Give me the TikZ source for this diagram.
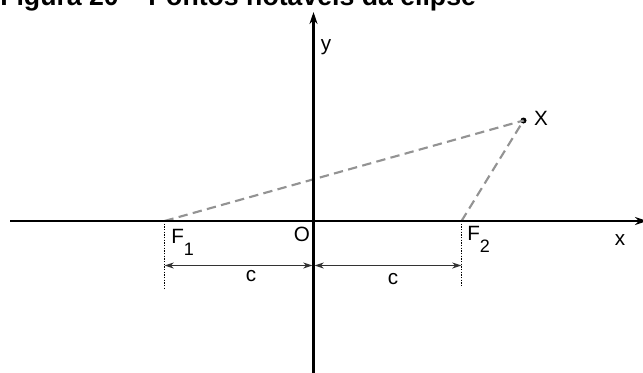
\documentclass[tikz,border=0pt]{standalone}
\usepackage{fontspec}
\setmainfont{Liberation Sans}
\usetikzlibrary{arrows.meta}
\newcommand{\subidx}[1]{\raisebox{-9pt}{\fontsize{13.5}{16}\selectfont #1}}
\begin{document}
\begin{tikzpicture}[x=0.75pt, y=-0.75pt,
        every node/.style={font=\fontsize{15.5}{18}\selectfont, inner sep=0pt},
        axis/.style={line width=1.8pt, -{Stealth[length=9pt, width=6pt]}},
        guide/.style={dash pattern=on 7pt off 4pt, line width=1.6pt, draw=gray!85},
        foot/.style={dash pattern=on 1pt off 1pt, line width=1.4pt},
        dim/.style={{Stealth[length=7pt, width=4.5pt]}-{Stealth[length=7pt, width=4.5pt]},
            line width=0.8pt, draw=black!80},
        title/.style={font=\fontsize{20}{24}\selectfont\bfseries},
        dot/.style={circle, fill, minimum size=4.5pt}
      ]
      \useasboundingbox (0,0) rectangle (643,372);
      \node[title, anchor=base west] (title) at (0,5) {Figura 20 -- Pontos notáveis da elipse};

      \coordinate (O)  at (313.5,221);
      \coordinate (F1) at (164.5,221);
      \coordinate (F2) at (461.5,221);
      \node[dot] (X) at (523.5,120.5) {};

      \coordinate (xs) at (10,221);
      \coordinate (xe) at (647,221);
      \coordinate (ys) at (313.5,380);
      \coordinate (ye) at (313.5,12);

      \draw[guide] (F1) -- (X.center);
      \draw[guide] (F2) -- (X.center);

      \draw[axis] (xs) -- (xe);
      \draw[axis] (ys) -- (ye);

      \coordinate (F1b) at (164.5,288);
      \coordinate (F2b) at (461.5,286);
      \draw[foot] (F1) -- (F1b);
      \draw[foot] (F2) -- (F2b);

      \coordinate (d1)  at (164.5,265.5);
      \coordinate (d0l) at (312.5,265.5);
      \coordinate (d0r) at (314.5,265.5);
      \coordinate (d2)  at (461.5,265.5);
      \draw[dim] (d1) -- (d0l);
      \draw[dim] (d0r) -- (d2);

      \node[anchor=base west] (lf1) at (171,243) {F\subidx{1}};
      \node[anchor=base west] (lf2) at (467,240) {F\subidx{2}};
      \node[anchor=base] (lo) at (302,241.5) {O};
      \node[anchor=base] (lc1) at (251,281) {c};
      \node[anchor=base] (lc2) at (393,284) {c};
      \node[anchor=base] (lx) at (620,245) {x};
      \node[anchor=base] (ly) at (326,50) {y};
      \node[anchor=base] (lX) at (541,125) {X};
    \end{tikzpicture}
\end{document}
